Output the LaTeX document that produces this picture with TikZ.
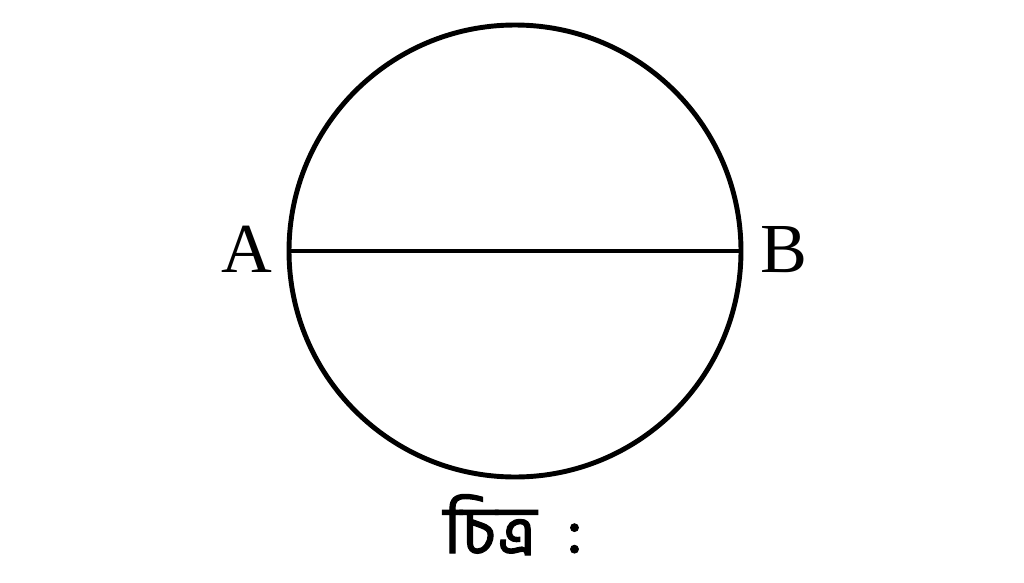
\documentclass[tikz,border=0pt]{standalone}
\usepackage{fontspec}
\setmainfont{Liberation Serif}
\newfontfamily\bnfont[Script=Bengali,FakeBold=1.5]{Hind Siliguri}
\begin{document}
\begin{tikzpicture}[x=0.02cm, y=-0.02cm, line width=2.8pt]
              \useasboundingbox (0, 0) rectangle (1024, 582);
              \coordinate (O) at (515, 251);
              \draw (O) circle [radius = 226];
              \coordinate (a) at (289, 251);
              \coordinate (b) at (741, 251);
              \draw (a) -- (b);
              \node [anchor=base, font=\fontsize{40}{40}\selectfont] (A) at (247, 272) {A};
              \node [anchor=base, font=\fontsize{40}{40}\selectfont] (B) at (784, 272) {B};
              \node [anchor=base, inner sep=0pt, font=\bnfont\fontsize{38}{38}\selectfont] (cap) at (513, 553) {চিত্র\ \ :};
            \end{tikzpicture}
\end{document}
